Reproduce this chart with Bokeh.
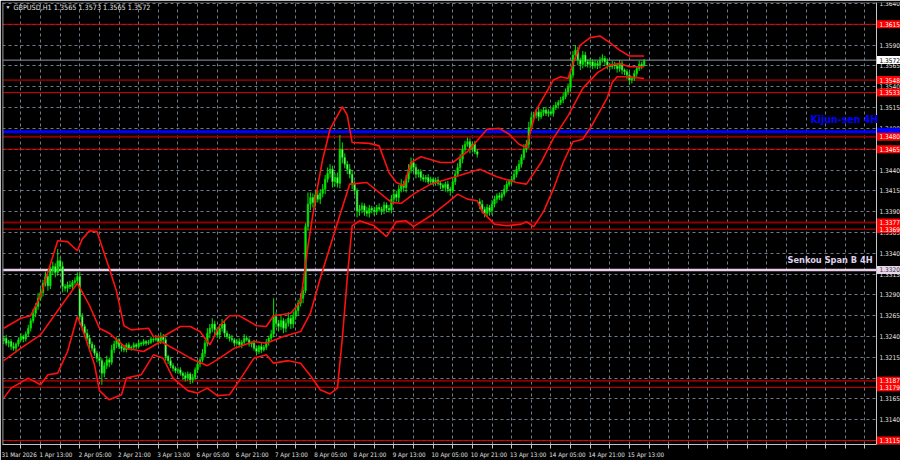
from bokeh.plotting import figure
from bokeh.models import Range1d, FixedTicker, Label, Span, ColumnDataSource
from bokeh.core.properties import value
from bokeh.embed import file_html
from bokeh.resources import INLINE

# ---------------- data ----------------
symbol_title = "GBPUSD,H1  1.3565 1.3573 1.3565 1.3572"

closes = [
    1.3238, 1.3232, 1.3234, 1.3228, 1.3226, 1.3231, 1.3236, 1.3240, 1.3237, 1.3243,
    1.3250, 1.3259, 1.3268, 1.3276, 1.3286, 1.3293, 1.3304, 1.3312, 1.3301, 1.3319,
    1.3324, 1.3317, 1.3331, 1.3324, 1.3300, 1.3298, 1.3302, 1.3300, 1.3305, 1.3307,
    1.3312, 1.3264, 1.3252, 1.3244, 1.3238, 1.3231, 1.3226, 1.3220, 1.3214, 1.3211,
    1.3196, 1.3205, 1.3212, 1.3209, 1.3224, 1.3231, 1.3236, 1.3228, 1.3226, 1.3224,
    1.3230, 1.3226, 1.3227, 1.3230, 1.3228, 1.3232, 1.3231, 1.3234, 1.3232, 1.3233,
    1.3237, 1.3236, 1.3238, 1.3234, 1.3240, 1.3236, 1.3216, 1.3211, 1.3205, 1.3202,
    1.3199, 1.3200, 1.3196, 1.3193, 1.3190, 1.3195, 1.3188, 1.3191, 1.3200, 1.3207,
    1.3212, 1.3220, 1.3232, 1.3244, 1.3250, 1.3255, 1.3248, 1.3242, 1.3250, 1.3255,
    1.3244, 1.3240, 1.3238, 1.3236, 1.3232, 1.3234, 1.3230, 1.3233, 1.3238, 1.3236,
    1.3231, 1.3232, 1.3226, 1.3222, 1.3228, 1.3224, 1.3227, 1.3233, 1.3238, 1.3243,
    1.3264, 1.3256, 1.3252, 1.3259, 1.3250, 1.3256, 1.3262, 1.3255, 1.3264, 1.3271,
    1.3280, 1.3286, 1.3295, 1.3372, 1.3399, 1.3407, 1.3401, 1.3410, 1.3405, 1.3412,
    1.3417, 1.3429, 1.3436, 1.3441, 1.3426, 1.3431, 1.3424, 1.3465, 1.3455, 1.3447,
    1.3441, 1.3435, 1.3423, 1.3415, 1.3391, 1.3393, 1.3397, 1.3391, 1.3388, 1.3394,
    1.3392, 1.3390, 1.3395, 1.3393, 1.3391, 1.3398, 1.3394, 1.3392, 1.3405, 1.3411,
    1.3407, 1.3417, 1.3423, 1.3419, 1.3429, 1.3441, 1.3449, 1.3443, 1.3435, 1.3438,
    1.3431, 1.3429, 1.3431, 1.3426, 1.3429, 1.3425, 1.3428, 1.3424, 1.3422, 1.3419,
    1.3423, 1.3417, 1.3415, 1.3426, 1.3435, 1.3443, 1.3453, 1.3465, 1.3471, 1.3474,
    1.3465, 1.3471, 1.3462, 1.3459, 1.3399, 1.3393, 1.3388, 1.3395, 1.3391, 1.3399,
    1.3405, 1.3409, 1.3407, 1.3411, 1.3417, 1.3423, 1.3426, 1.3429, 1.3435, 1.3441,
    1.3447, 1.3455, 1.3465, 1.3471, 1.3491, 1.3503, 1.3506, 1.3510, 1.3504, 1.3509,
    1.3512, 1.3508, 1.3510, 1.3508, 1.3515, 1.3518, 1.3521, 1.3524, 1.3528, 1.3534,
    1.3539, 1.3554, 1.3578, 1.3584, 1.3572, 1.3567, 1.3578, 1.3570, 1.3567, 1.3570,
    1.3565, 1.3568, 1.3566, 1.3572, 1.3574, 1.3570, 1.3566, 1.3564, 1.3567, 1.3565,
    1.3562, 1.3568, 1.3560, 1.3558, 1.3554, 1.3548, 1.3550, 1.3556, 1.3562, 1.3567,
    1.3565, 1.3572,
]
first_open = 1.3235
session_opens = {194: 1.3402}   # Monday open after the weekend gap

# wick lengths in pips above / below the candle body
upper_wick = [
    3, 4, 2, 3, 5, 2, 3, 4, 2, 3,
    4, 3, 5, 4, 6, 5, 4, 6, 3, 5,
    6, 4, 14, 5, 6, 3, 4, 5, 3, 4,
    5, 6, 4, 3, 5, 4, 3, 4, 3, 5,
    3, 4, 5, 3, 6, 4, 3, 2, 3, 4,
    2, 3, 2, 3, 2, 4, 2, 3, 2, 3,
    3, 2, 4, 3, 5, 3, 3, 2, 4, 3,
    2, 3, 3, 2, 4, 3, 2, 4, 3, 4,
    3, 5, 4, 6, 5, 7, 4, 3, 5, 6,
    4, 3, 3, 4, 2, 3, 4, 3, 5, 3,
    3, 2, 4, 3, 2, 4, 3, 4, 3, 5,
    22, 5, 4, 6, 3, 5, 7, 4, 6, 5,
    4, 6, 5, 4, 14, 6, 5, 4, 6, 5,
    6, 5, 7, 6, 4, 5, 6, 17, 8, 5,
    4, 6, 5, 4, 3, 5, 4, 3, 5, 4,
    3, 4, 3, 5, 3, 4, 3, 4, 5, 6,
    4, 5, 6, 4, 5, 6, 6, 5, 4, 3,
    3, 4, 3, 4, 3, 2, 3, 4, 3, 2,
    3, 4, 3, 5, 4, 5, 6, 5, 4, 5,
    4, 3, 4, 3, 4, 5, 3, 4, 3, 5,
    4, 3, 4, 3, 5, 4, 3, 4, 5, 4,
    5, 4, 6, 5, 7, 5, 4, 3, 5, 4,
    3, 4, 3, 4, 3, 4, 3, 4, 5, 4,
    5, 6, 5, 6, 4, 3, 5, 4, 3, 4,
    3, 4, 3, 4, 5, 3, 4, 3, 4, 3,
    3, 4, 3, 2, 3, 4, 3, 4, 3, 4,
    3, 1,
]
lower_wick = [
    4, 3, 5, 4, 3, 5, 3, 2, 4, 3,
    3, 4, 3, 5, 4, 3, 5, 4, 6, 4,
    5, 6, 4, 5, 7, 4, 5, 3, 4, 3,
    3, 4, 5, 4, 3, 5, 4, 3, 5, 4,
    14, 5, 4, 6, 3, 4, 5, 3, 4, 3,
    3, 2, 3, 2, 3, 2, 3, 2, 3, 2,
    2, 3, 2, 4, 3, 4, 5, 4, 3, 4,
    3, 4, 3, 5, 4, 3, 5, 4, 3, 4,
    4, 3, 5, 4, 6, 5, 6, 4, 5, 4,
    5, 3, 4, 3, 4, 2, 3, 4, 3, 2,
    3, 4, 3, 5, 3, 4, 2, 3, 4, 3,
    4, 5, 6, 4, 6, 5, 4, 6, 5, 4,
    5, 4, 6, 3, 5, 7, 6, 5, 4, 6,
    5, 6, 4, 5, 7, 6, 5, 6, 7, 5,
    6, 5, 6, 5, 8, 6, 5, 6, 4, 5,
    4, 5, 4, 3, 5, 4, 5, 3, 4, 5,
    5, 6, 4, 5, 6, 4, 5, 6, 5, 4,
    4, 3, 4, 3, 4, 3, 4, 3, 5, 4,
    5, 4, 6, 3, 4, 3, 4, 5, 4, 3,
    5, 4, 3, 4, 6, 5, 5, 4, 6, 5,
    4, 5, 3, 4, 3, 4, 3, 4, 3, 4,
    3, 4, 3, 4, 5, 4, 5, 4, 5, 3,
    4, 3, 4, 3, 4, 3, 4, 3, 4, 3,
    4, 5, 4, 5, 6, 7, 5, 6, 4, 5,
    4, 3, 5, 4, 3, 4, 5, 4, 3, 4,
    5, 4, 5, 4, 5, 6, 4, 3, 4, 3,
    4, 0,
]

# Bollinger band lines read at sample bars
upper_bar = [0, 7, 11, 15, 22, 26, 30, 32, 35, 38, 43, 46, 49, 52, 59, 61, 65, 72, 76, 80,
             84, 88, 92, 96, 103, 107, 110, 117, 121, 124, 127, 130, 133, 138, 140, 142, 149, 153, 157, 160,
             163, 166, 170, 178, 183, 189, 197, 202, 206, 210, 213, 217, 224, 227, 230, 232, 235, 239, 243, 247,
             251, 255, 261]
upper_val = [1.3250, 1.3262, 1.3265, 1.3289, 1.3355, 1.3354, 1.3343, 1.3357, 1.3367, 1.3366,
             1.3322, 1.3294, 1.3253, 1.3248, 1.3250, 1.3240, 1.3240, 1.3252, 1.3252, 1.3246,
             1.3230, 1.3253, 1.3265, 1.3265, 1.3253, 1.3252, 1.3265, 1.3268, 1.3282, 1.3349,
             1.3405, 1.3453, 1.3489, 1.3516, 1.3506, 1.3473, 1.3472, 1.3469, 1.3437, 1.3425,
             1.3421, 1.3449, 1.3456, 1.3449, 1.3449, 1.3462, 1.3489, 1.3490, 1.3483, 1.3471,
             1.3467, 1.3512, 1.3548, 1.3552, 1.3550, 1.3568, 1.3590, 1.3599, 1.3601, 1.3593,
             1.3584, 1.3577, 1.3577]
mid_bar = [0, 7, 15, 22, 30, 35, 39, 43, 50, 57, 64, 69, 76, 83, 88, 94, 102, 107, 114, 121,
           125, 129, 135, 141, 148, 158, 162, 167, 174, 183, 194, 201, 209, 213, 219, 224, 230, 232, 236, 242,
           247, 251, 255, 261]
mid_val = [1.3211, 1.3226, 1.3242, 1.3271, 1.3304, 1.3277, 1.3250, 1.3244, 1.3226, 1.3222,
           1.3234, 1.3226, 1.3214, 1.3205, 1.3214, 1.3226, 1.3234, 1.3232, 1.3240, 1.3246,
           1.3268, 1.3310, 1.3367, 1.3423, 1.3425, 1.3401, 1.3400, 1.3411, 1.3423, 1.3431,
           1.3441, 1.3432, 1.3425, 1.3423, 1.3449, 1.3478, 1.3505, 1.3516, 1.3538, 1.3557,
           1.3566, 1.3568, 1.3564, 1.3564]
lower_bar = [0, 3, 10, 15, 18, 22, 26, 30, 32, 37, 39, 43, 48, 50, 56, 61, 65, 69, 75, 79,
             83, 87, 92, 96, 102, 107, 110, 116, 121, 125, 129, 133, 136, 138, 140, 142, 145, 151, 156, 160,
             164, 167, 174, 181, 185, 189, 193, 195, 200, 205, 211, 213, 216, 220, 224, 228, 232, 236, 240, 246,
             248, 250, 254, 261]
lower_val = [1.3166, 1.3178, 1.3190, 1.3182, 1.3194, 1.3196, 1.3222, 1.3264, 1.3250, 1.3206,
             1.3175, 1.3164, 1.3170, 1.3190, 1.3194, 1.3218, 1.3214, 1.3190, 1.3175, 1.3172,
             1.3178, 1.3169, 1.3170, 1.3187, 1.3214, 1.3218, 1.3208, 1.3211, 1.3208, 1.3193,
             1.3176, 1.3171, 1.3178, 1.3238, 1.3310, 1.3373, 1.3379, 1.3373, 1.3360, 1.3378,
             1.3379, 1.3372, 1.3385, 1.3401, 1.3411, 1.3405, 1.3403, 1.3390, 1.3375, 1.3373,
             1.3375, 1.3378, 1.3372, 1.3390, 1.3417, 1.3449, 1.3474, 1.3477, 1.3495, 1.3527,
             1.3545, 1.3552, 1.3552, 1.3550]

# horizontal levels
red_levels = [1.3615, 1.3548, 1.3533, 1.3465, 1.3369, 1.3179, 1.3115]
darkred_levels = [1.3480, 1.3377, 1.3187]
kijun_level = 1.3486
senkou_level = 1.3320
bid_level = 1.3572
kijun_text = "Kijun-sen 4H"
senkou_text = "Senkou Span B 4H"

price_ticks = [1.3115, 1.3140, 1.3165, 1.3190, 1.3215, 1.3240, 1.3265, 1.3290, 1.3315, 1.3340,
               1.3365, 1.3390, 1.3415, 1.3440, 1.3465, 1.3490, 1.3515, 1.3540, 1.3565, 1.3590,
               1.3615, 1.3640]
time_label_bars = [0, 15, 31, 47, 63, 79, 95, 111, 127, 143, 159, 175, 191, 207, 223, 239, 255]
time_labels = ["31 Mar 2026", "1 Apr 13:00", "2 Apr 05:00", "2 Apr 21:00", "3 Apr 13:00",
               "6 Apr 05:00", "6 Apr 21:00", "7 Apr 13:00", "8 Apr 05:00", "8 Apr 21:00",
               "9 Apr 13:00", "10 Apr 05:00", "10 Apr 21:00", "13 Apr 13:00", "14 Apr 05:00",
               "14 Apr 21:00", "15 Apr 13:00"]

# ---------------- derived candle geometry ----------------
PIP = 0.0001
n = len(closes)
assert len(upper_wick) == n and len(lower_wick) == n
opens = [first_open] + closes[:-1]
for k, v in session_opens.items():
    opens[k] = v
bars = list(range(n))
body_top = [max(o, c) for o, c in zip(opens, closes)]
body_bot = [min(o, c) for o, c in zip(opens, closes)]
highs = [t + w * PIP for t, w in zip(body_top, upper_wick)]
lows = [b - w * PIP for b, w in zip(body_bot, lower_wick)]
fills = ["#00ff00" if c >= o else "#d6ffd6" for o, c in zip(opens, closes)]
src = ColumnDataSource(dict(x=bars, high=highs, low=lows, top=body_top, bottom=body_bot, fill=fills))

# ---------------- layout constants ----------------
W, H = 900, 460
B_LEFT, B_TOP, B_BOTTOM = 2, 2, 13
COL_PX = 24                      # price-label column at the right
CHART_PX = W - B_LEFT - COL_PX   # width of the chart area
X0, X_CHART = -0.5, 355.7
Y0, Y1 = 1.31103, 1.36412
px_per_bar = CHART_PX / (X_CHART - X0)
X_END = X_CHART + COL_PX / px_per_bar
price_per_px = (Y1 - Y0) / (H - B_TOP - B_BOTTOM)

FONT = "Liberation Sans Narrow, DejaVu Sans Condensed, sans-serif"
GRID = "#6d7a88"
FG = "#c4c4c4"

p = figure(width=W, height=H, x_range=Range1d(X0, X_END), y_range=Range1d(Y0, Y1),
           output_backend="svg", toolbar_location=None, y_axis_location=None,
           background_fill_color="#000000", border_fill_color="#000000",
           min_border_left=B_LEFT, min_border_top=B_TOP, min_border_right=0, min_border_bottom=B_BOTTOM)
p.outline_line_color = None

# x axis (labels left-aligned at their tick, MT4 style)
char_w = 2.8
label_pos = [b + round(len(t) * char_w / 2 / px_per_bar * 4) / 4 for b, t in zip(time_label_bars, time_labels)]
grid_bars = list(range(7, 356, 8))
xax = p.xaxis[0]
xax.ticker = FixedTicker(ticks=label_pos, minor_ticks=grid_bars)
xax.major_label_overrides = {pos: t for pos, t in zip(label_pos, time_labels)}
xax.major_label_text_font_size = "6.2px"
xax.major_label_text_font = FONT
xax.major_label_text_color = "#e4e4e4"
xax.major_tick_line_color = None
xax.major_tick_out = 0
xax.major_tick_in = 0
xax.minor_tick_line_color = FG
xax.minor_tick_out = 4
xax.minor_tick_in = 0
xax.axis_line_color = FG
xax.major_label_standoff = 2
xax.axis_label_standoff = 0
xax.bounds = (X0, X_CHART)

# grids
p.xgrid.ticker = xax.ticker
p.xgrid.grid_line_color = None
p.xgrid.minor_grid_line_color = GRID
p.xgrid.minor_grid_line_dash = "3 3"
p.ygrid.ticker = FixedTicker(ticks=price_ticks)
p.ygrid.grid_line_color = GRID
p.ygrid.grid_line_dash = "3 3"

# horizontal levels
for lv in red_levels:
    p.add_layout(Span(location=lv, dimension="width", line_color="#dc0000", line_width=1, level="underlay"))
for lv in darkred_levels:
    p.add_layout(Span(location=lv, dimension="width", line_color="#8b0000", line_width=2, level="underlay"))
p.add_layout(Span(location=bid_level, dimension="width", line_color="#8e98a4", line_width=1, level="underlay"))
p.add_layout(Span(location=senkou_level, dimension="width", line_color="#e8cfe8", line_width=2.5, level="underlay"))
p.add_layout(Span(location=kijun_level, dimension="width", line_color="#0000ff", line_width=3, level="underlay"))

# black price-label column (covers grid/levels right of the chart)
p.quad(left=X_CHART, right=X_END, bottom=Y0, top=Y1, fill_color="#000000", line_color=None)

# candles
p.segment(x0="x", y0="low", x1="x", y1="high", source=src, line_color="#00e600", line_width=1)
p.vbar(x="x", width=0.6, top="top", bottom="bottom", source=src,
       fill_color="fill", line_color="#00d000", line_width=0.8)

# Bollinger bands
for bx, by in ((upper_bar, upper_val), (mid_bar, mid_val), (lower_bar, lower_val)):
    p.line(bx, by, line_color="#ff1010", line_width=1.6)

# chart borders
p.add_layout(Span(location=X_CHART, dimension="height", line_color=FG, line_width=1))
p.add_layout(Span(location=X0, dimension="height", line_color="#808080", line_width=2))

# price scale labels
box_levels = red_levels + darkred_levels
vis_ticks = [t for t in price_ticks if min(abs(t - b) for b in box_levels) > 3.5 * PIP]
tick_src = ColumnDataSource(dict(x=[X_CHART] * len(vis_ticks), y=vis_ticks,
                                 t=["%.4f" % t for t in vis_ticks]))
p.text(x="x", y="y", text="t", source=tick_src, x_offset=3, text_font=value(FONT),
       text_font_size="6.5px", text_color="#e4e4e4", text_align="left", text_baseline="middle")

# coloured price boxes (kijun box first, mostly hidden like the original)
bx_levels = [kijun_level] + red_levels + darkred_levels + [bid_level, senkou_level]
bx_fill = ["#0000ff"] + ["#ff0000"] * len(box_levels) + ["#ffffff", "#e8d6ec"]
bx_tcol = ["#ffffff"] * (1 + len(box_levels)) + ["#000000", "#303030"]
bx_text = [""] + ["%.4f" % v for v in box_levels] + ["%.4f" % bid_level, "%.4f" % senkou_level]
bx_src = ColumnDataSource(dict(xc=[(X_CHART + X_END) / 2] * len(bx_levels), xl=[X_CHART] * len(bx_levels),
                               y=bx_levels, fill=bx_fill, tc=bx_tcol, t=bx_text))
p.rect(x="xc", y="y", width=COL_PX, width_units="screen", height=8, height_units="screen",
       source=bx_src, fill_color="fill", line_color=None)
p.text(x="xl", y="y", text="t", source=bx_src, x_offset=3, text_font=value(FONT),
       text_font_size="6.5px", text_color="tc", text_align="left", text_baseline="middle")

# text labels on the chart (left-anchored at their positions in the original)
p.add_layout(Label(x=X0, y=Y1 - 5 * price_per_px, x_offset=3, text="\u25BC", text_font_size="5px",
                   text_color="#e0e0e0", text_baseline="middle", text_align="left"))
p.add_layout(Label(x=X0, y=Y1 - 5 * price_per_px, x_offset=11, text=symbol_title, text_font_size="7.2px",
                   text_font=FONT, text_color="#e0e0e0", text_baseline="middle", text_align="left"))
p.add_layout(Label(x=X_CHART, y=kijun_level + 13 * price_per_px, x_offset=-66, text=kijun_text,
                   text_font_size="10.5px", text_font=FONT, text_font_style="bold",
                   text_color="#0000ff", text_baseline="middle", text_align="left"))
p.add_layout(Label(x=X_CHART, y=senkou_level + 10 * price_per_px, x_offset=-89, text=senkou_text,
                   text_font_size="9.2px", text_font=FONT, text_font_style="bold",
                   text_color="#ddd0ea", text_baseline="middle", text_align="left"))

open("out.html", "w").write(file_html(p, INLINE))
